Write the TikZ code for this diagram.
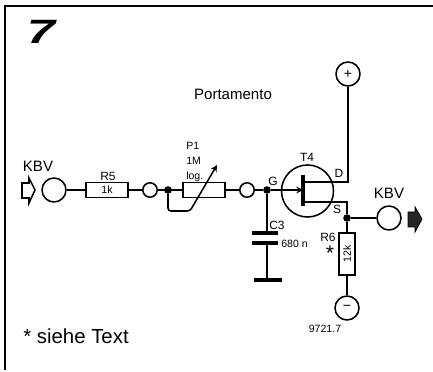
\documentclass[tikz,border=0pt]{standalone}
\usepackage{fontspec}
\setmainfont{Liberation Sans}
\usetikzlibrary{shapes,arrows,positioning,calc}

\tikzset{
    wire/.style={line width=1.1pt},
    term/.style={draw,circle,line width=1.1pt,inner sep=0pt,minimum size=.6cm},
    pin/.style={draw,circle,line width=1.1pt,inner sep=0pt,minimum size=.36cm},
    dot/.style={circle,fill=black,inner sep=0pt,minimum size=.19cm},
    res/.style={draw,rectangle,line width=1.1pt,inner sep=0pt,minimum width=1.05cm,minimum height=.38cm},
    plate/.style={line width=2.7pt},
    tiny/.style={font=\fontsize{7.5}{8}\selectfont,inner sep=0pt},
    small/.style={font=\fontsize{8.5}{9}\selectfont,inner sep=0pt},
    mid/.style={font=\fontsize{10.7}{12}\selectfont,inner sep=0pt},
}

\begin{document}
\begin{tikzpicture}[x=.025cm,y=-.025cm]
    \useasboundingbox (0,0) rectangle (433,372);

    % frame
    \coordinate (corner) at (5,6);
    \draw[line width=1.5pt] (5,370) -- (corner) -- (433,6);

    % titles
    \node[font=\fontsize{24}{26}\selectfont\bfseries\itshape,xscale=1.5,inner sep=0pt] (fig) at (41,32) {7};
    \node[mid] (title) at (233,94) {Portamento};
    \node[font=\fontsize{14.5}{16}\selectfont,anchor=west,inner sep=0pt] (note) at (23,336) {* siehe Text};

    % input
    \node[mid] (kbvin) at (38,166) {KBV};
    \draw[wire] (22,183) -- (29,183) -- (29,178) -- (35,190) -- (29,203) -- (29,198) -- (22,198) -- cycle;
    \node[term] (in) at (54,190) {};

    % R5 and P1
    \node[res] (r5) at (107,190) {};
    \node[tiny] (r5val) at (107,190) {1k};
    \node[small] (r5lab) at (108,176) {R5};
    \node[pin] (p1) at (150,190) {};
    \node[dot] (n1) at (168,190) {};
    \node[res] (pot) at (204,190) {};
    \node[pin] (p2) at (247,190) {};
    \node[dot] (n2) at (267,190) {};
    \node[tiny,align=left,anchor=west] (potlab) at (186,162) {P1\\[2.5pt]1M\\[2.5pt]log.};

    \draw[wire] (in) -- (r5);
    \draw[wire] (r5) -- (p1);
    \draw[wire] (p1) -- (pot);
    \draw[wire] (pot) -- (p2);
    \draw[wire] (p2) -- (n2);

    % wiper
    \coordinate (w1) at (190,211);
    \coordinate (w2) at (217,165);
    \draw[wire,-stealth,rounded corners=2pt] (n1) |- (w1) -- (w2);

    % T4
    \node[term,minimum size=1.3cm] (t4) at (307.5,191) {};
    \coordinate (bar1) at (303,175);
    \coordinate (bar2) at (303,206);
    \coordinate (gate) at (303,190);
    \coordinate (drain) at (303,182);
    \coordinate (source) at (303,202);
    \draw[plate] (bar1) -- (bar2);
    \draw[wire,-stealth] (n2) -- (gate);
    \node[small] (t4lab) at (307,157) {T4};
    \node[small] (glab) at (273,181) {G};
    \node[small] (dlab) at (339,173) {D};
    \node[small] (slab) at (337,209) {S};

    % supply
    \node[term] (plus) at (348,74) {+};
    \draw[wire] (drain) -| (plus);

    % output
    \node[dot] (n3) at (347,218) {};
    \node[term] (out) at (389,218) {};
    \node[mid] (kbvout) at (389,193) {KBV};
    \draw[wire] (source) -| (n3);
    \draw[wire] (n3) -- (out);
    \draw[line width=.6pt,fill=black!85] (408,212) -- (415,212) -- (415,207) -- (422,219) -- (415,232) -- (415,227) -- (408,227) -- cycle;

    % R6
    \node[res,minimum width=.4cm,minimum height=1.05cm] (r6) at (347,254) {};
    \node[tiny,rotate=90] (r6val) at (347,254) {12k};
    \node[small] (r6lab) at (328,237) {R6};
    \node[font=\fontsize{15}{16}\selectfont,inner sep=0pt] (star) at (330,253) {*};
    \node[term] (minus) at (347,308) {\textminus};
    \node[tiny] (code) at (325,329) {9721.7};
    \draw[wire] (n3) -- (r6);
    \draw[wire] (r6) -- (minus);

    % C3
    \coordinate (c1) at (267,233);
    \coordinate (c2) at (267,243);
    \coordinate (gnd) at (267,280);
    \draw[wire] (n2) -- (c1);
    \draw[wire] (c2) -- (gnd);
    \draw[plate] ($(c1)+(-15,0)$) -- ($(c1)+(11,0)$);
    \draw[plate] ($(c2)+(-15,0)$) -- ($(c2)+(11,0)$);
    \draw[plate] ($(gnd)+(-13,0)$) -- ($(gnd)+(15,0)$);
    \node[small] (c3lab) at (277,225) {C3};
    \node[tiny,anchor=west] (c3val) at (281,244) {680 n};
\end{tikzpicture}
\end{document}
